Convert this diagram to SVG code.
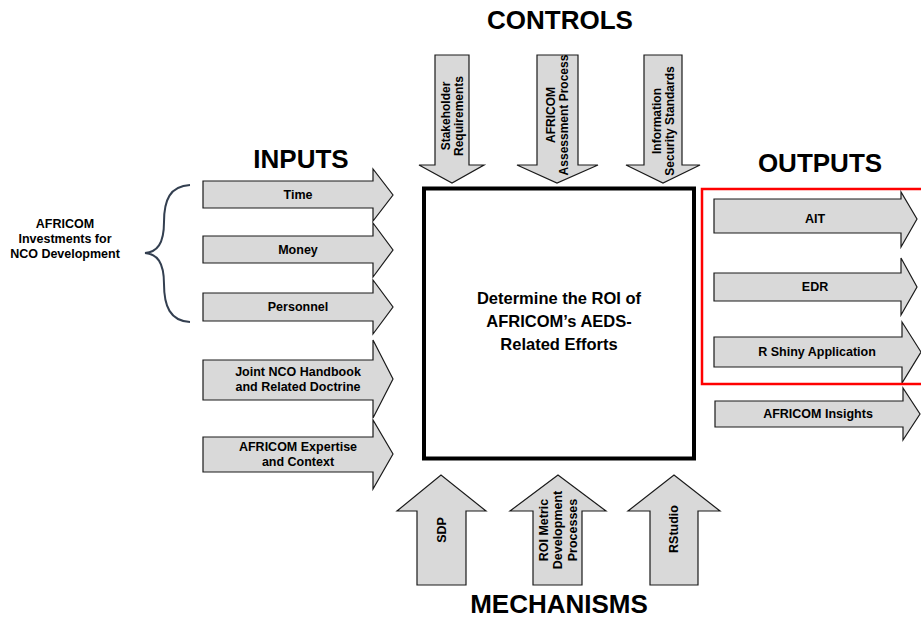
<svg xmlns="http://www.w3.org/2000/svg" width="921" height="621" viewBox="0 0 921 621">
<defs>
<style>
.arr{fill:#d9d9d9;stroke:#1a1a1a;stroke-width:1.2;stroke-linejoin:miter}
.t{font-family:"Liberation Sans",Arial,sans-serif;font-weight:bold;font-size:12.5px;fill:#000;text-anchor:middle}
.tc{font-family:"Liberation Sans",Arial,sans-serif;font-weight:bold;font-size:12px;fill:#000;text-anchor:middle}
.h{font-family:"Liberation Sans",Arial,sans-serif;font-weight:bold;font-size:26px;fill:#000;text-anchor:middle}
.m{font-family:"Liberation Sans",Arial,sans-serif;font-weight:bold;font-size:16.5px;fill:#000;text-anchor:middle}
</style>
</defs>
<rect width="921" height="621" fill="#fff"/>

<g id="headings">
<text class="h" x="560" y="29">CONTROLS</text>
<text class="h" x="301" y="168">INPUTS</text>
<text class="h" x="820" y="172">OUTPUTS</text>
<text class="h" x="559" y="613">MECHANISMS</text>
</g>

<g id="activity">
<rect x="424" y="188.5" width="270" height="270" fill="#fff" stroke="#000" stroke-width="4"/>
<text class="m" x="559" y="304">Determine the ROI of</text>
<text class="m" x="559" y="327">AFRICOM’s AEDS-</text>
<text class="m" x="559" y="350">Related Efforts</text>
</g>

<g id="investments">
<text class="t" x="65" y="228">AFRICOM</text>
<text class="t" x="65" y="243">Investments for</text>
<text class="t" x="65" y="258">NCO Development</text>
<path d="M190,185 C170,186 164,200 164,222 C164,244 157,252 145,253 C157,254 164,262 164,284 C164,306 170,321 190,322" fill="none" stroke="#333f50" stroke-width="2"/>
</g>

<g id="connectors">
<g id="in-time">
<polygon class="arr" points="203,181 373,181 373,169 393,195 373,221 373,208 203,208"/>
<text class="t" x="298" y="199">Time</text>
</g>
<g id="in-money">
<polygon class="arr" points="203,236 373,236 373,223 393,250 373,277 373,263 203,263"/>
<text class="t" x="298" y="254">Money</text>
</g>
<g id="in-personnel">
<polygon class="arr" points="203,293 373,293 373,280 393,307 373,334 373,321 203,321"/>
<text class="t" x="298" y="311">Personnel</text>
</g>
<g id="in-joint">
<polygon class="arr" points="203,360 373,360 373,340 393,379 373,418 373,400 203,400"/>
<text class="t" x="298" y="376">Joint NCO Handbook</text>
<text class="t" x="298" y="391">and Related Doctrine</text>
</g>
<g id="in-expertise">
<polygon class="arr" points="203,437 373,437 373,420 393,454 373,489 373,472 203,472"/>
<text class="t" x="298" y="451">AFRICOM Expertise</text>
<text class="t" x="298" y="466">and Context</text>
</g>

<g id="ctl-stakeholder">
<polygon class="arr" points="435,55 469,55 469,165 484,165 452,183 419,165 435,165"/>
<text class="tc" transform="translate(452,116) rotate(-90)"><tspan x="0" y="-2.5">Stakeholder</tspan><tspan x="0" y="10.5">Requirements</tspan></text>
</g>
<g id="ctl-assessment">
<polygon class="arr" points="537,55 578,55 578,165 598,165 557,183 517,165 537,165"/>
<text class="tc" transform="translate(557,115) rotate(-90)"><tspan x="0" y="-2.5">AFRICOM</tspan><tspan x="0" y="10.5">Assessment Process</tspan></text>
</g>
<g id="ctl-security">
<polygon class="arr" points="644,55 682,55 682,165 700,165 663,183 626,165 644,165"/>
<text class="tc" transform="translate(663,121) rotate(-90)"><tspan x="0" y="-2.5">Information</tspan><tspan x="0" y="10.5">Security Standards</tspan></text>
</g>

<g id="mech-sdp">
<polygon class="arr" points="417,585 466,585 466,511 486,511 441,475 397,511 417,511"/>
<text class="t" transform="translate(442,530) rotate(-90)"><tspan x="0" y="4.4">SDP</tspan></text>
</g>
<g id="mech-roi">
<polygon class="arr" points="533,585 582,585 582,511 606,511 558,475 510,511 533,511"/>
<text class="t" transform="translate(558,530) rotate(-90)"><tspan x="0" y="-10.2">ROI Metric</tspan><tspan x="0" y="4.4">Development</tspan><tspan x="0" y="19">Processes</tspan></text>
</g>
<g id="mech-rstudio">
<polygon class="arr" points="650,585 698,585 698,511 720,511 674,475 628,511 650,511"/>
<text class="t" transform="translate(674,529) rotate(-90)"><tspan x="0" y="4.4">RStudio</tspan></text>
</g>

<g id="out-ait">
<polygon class="arr" points="714,199 901,199 901,192 917,219 901,247 901,233 714,233"/>
<text class="t" x="815" y="223">AIT</text>
</g>
<g id="out-edr">
<polygon class="arr" points="714,273 901,273 901,258 917,287 901,315 901,301 714,301"/>
<text class="t" x="815" y="291">EDR</text>
</g>
<g id="out-shiny">
<polygon class="arr" points="714,337 902,337 902,322 921,352 902,383 902,367 714,367"/>
<text class="t" x="817" y="356">R Shiny Application</text>
</g>
<g id="out-insights">
<polygon class="arr" points="715,401 903,401 903,388 920,414 903,440 903,427 715,427"/>
<text class="t" x="818" y="418">AFRICOM Insights</text>
</g>
</g>

<g id="highlight">
<rect x="702" y="189" width="225" height="195" fill="none" stroke="#ff0000" stroke-width="2.5"/>
</g>
</svg>
